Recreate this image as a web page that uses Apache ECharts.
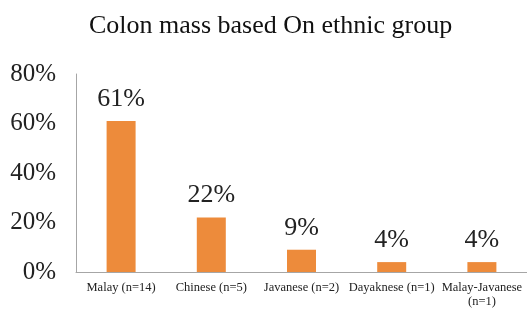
<!DOCTYPE html>
<html>
<head>
<meta charset="utf-8">
<script src="https://cdn.jsdelivr.net/npm/echarts@6/dist/echarts.min.js"></script>
<style>
html,body{margin:0;padding:0;background:#fff;}
#chart{width:527px;height:309px;}
</style>
</head>
<body>
<div id="chart"></div>
<script>
var categories = ['Malay (n=14)', 'Chinese (n=5)', 'Javanese (n=2)', 'Dayaknese (n=1)', 'Malay-Javanese\n(n=1)'];
var percents = [61, 22, 9, 4, 4];
var yTicks = [0, 20, 40, 60, 80];

var myChart = echarts.init(document.getElementById('chart'));
var serif = '"Liberation Serif", "DejaVu Serif", serif';
var option = {
	animation: false,
	title: {
		text: 'Colon mass based On ethnic group',
		left: 84,
		top: 8,
		textStyle: {fontFamily: serif, fontSize: 26, fontWeight: 'normal', color: '#111'}
	},
	grid: {left: 76, right: -4, top: 74, bottom: 34},
	xAxis: {
		type: 'category',
		data: categories,
		axisLine: {lineStyle: {color: '#a6a6a6', width: 1}},
		axisTick: {show: false},
		axisLabel: {fontFamily: serif, fontSize: 12.5, color: '#222', margin: 9, interval: 0, lineHeight: 14}
	},
	yAxis: {
		type: 'value',
		min: yTicks[0],
		max: yTicks[yTicks.length - 1],
		interval: 20,
		axisLine: {show: true, lineStyle: {color: '#a6a6a6', width: 1}},
		axisTick: {show: false},
		splitLine: {show: false},
		axisLabel: {fontFamily: serif, fontSize: 25, color: '#222', margin: 20, formatter: '{value}%'}
	},
	series: [{
		type: 'bar',
		data: percents,
		barWidth: 29,
		itemStyle: {color: '#ed8b3b'},
		label: {show: true, position: 'top', distance: 9, fontFamily: serif, fontSize: 26, color: '#222', formatter: '{c}%'}
	}]
};
myChart.setOption(option);
</script>
</body>
</html>
